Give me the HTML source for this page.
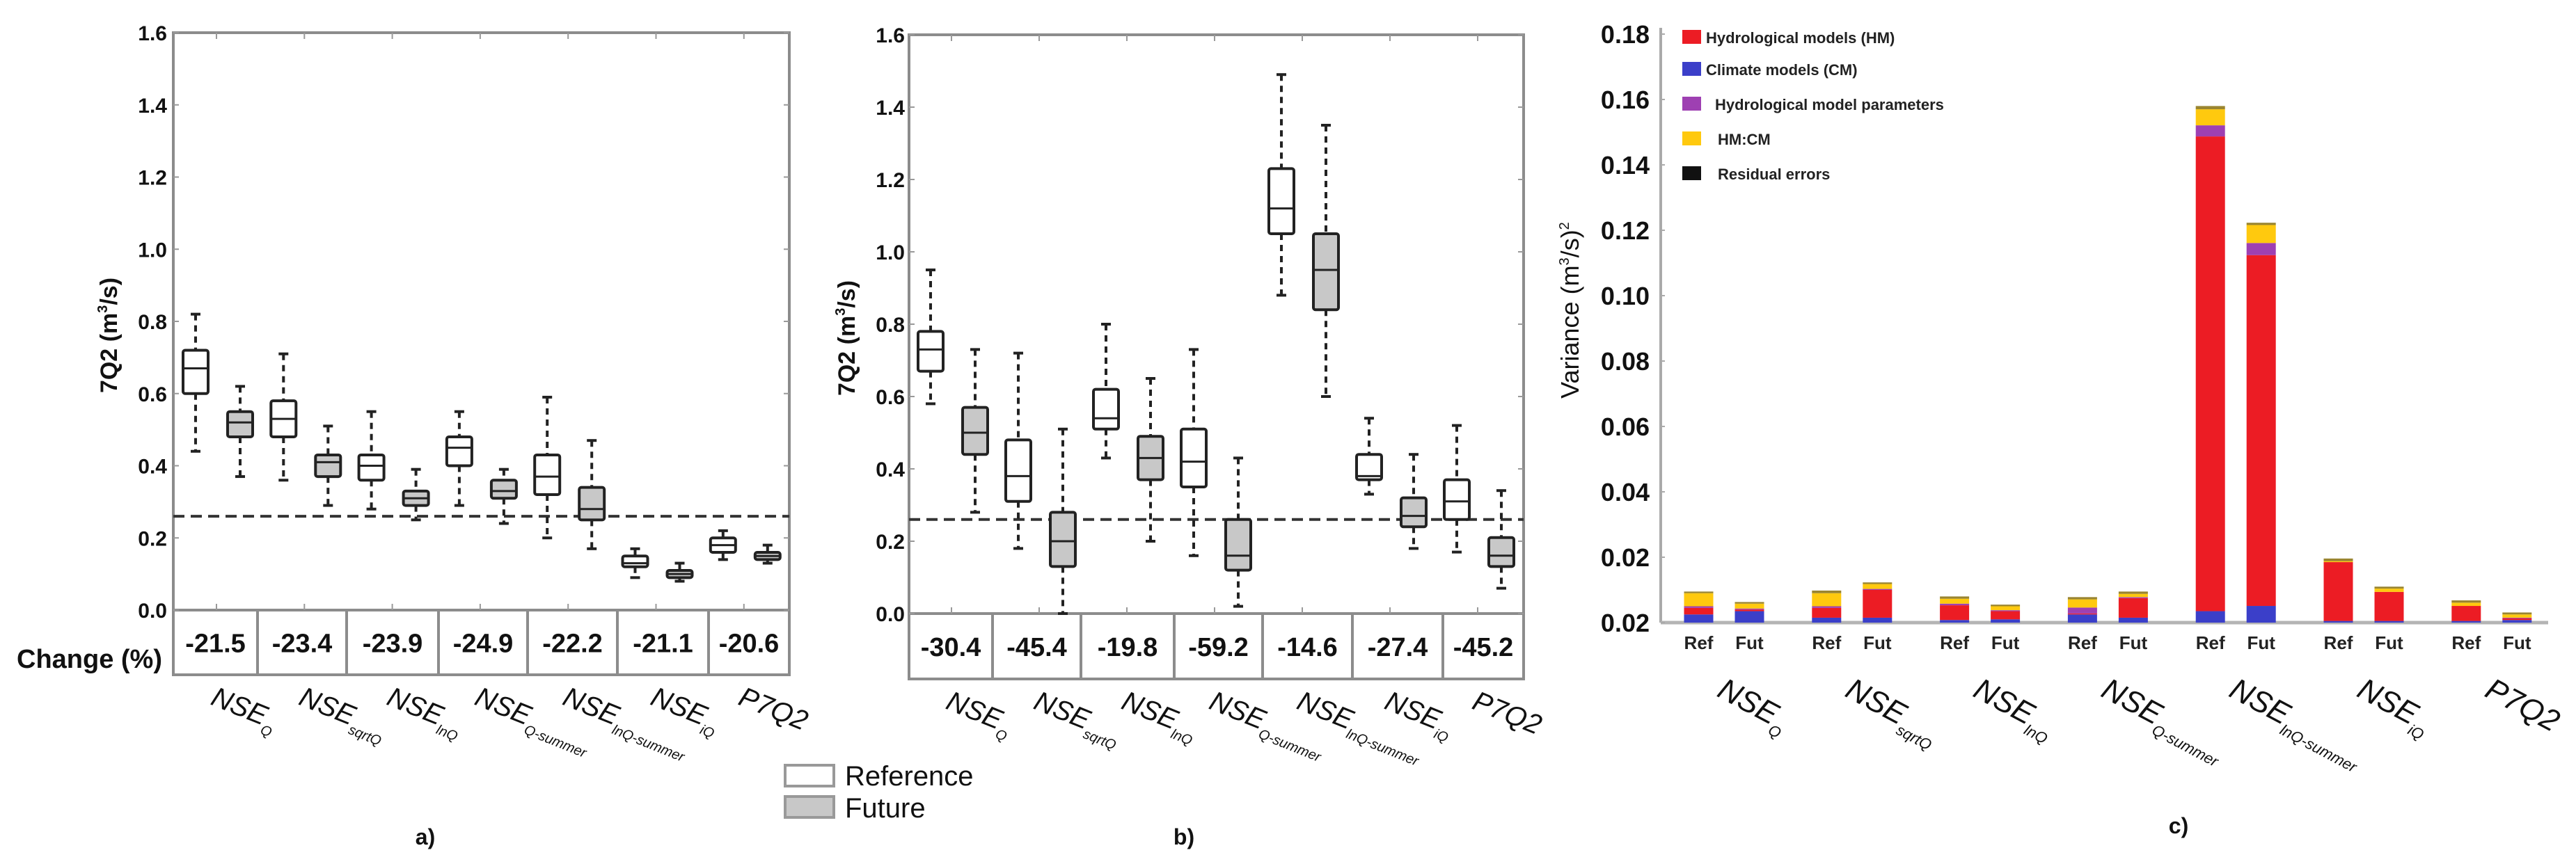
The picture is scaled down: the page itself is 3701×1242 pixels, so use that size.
<!DOCTYPE html>
<html><head><meta charset="utf-8">
<style>
html,body{margin:0;padding:0;background:#fff;}
svg{display:block;font-family:"Liberation Sans",Arial,sans-serif;}
</style></head>
<body>
<svg id="fig" width="3701" height="1242" viewBox="0 0 3701 1242" xmlns="http://www.w3.org/2000/svg"></svg>
<script>
// ---------- DATA ----------
const categories = ["NSE|Q","NSE|sqrtQ","NSE|lnQ","NSE|Q-summer","NSE|lnQ-summer","NSE|iQ","P7Q2|"];
const yTicksAB = [0.0,0.2,0.4,0.6,0.8,1.0,1.2,1.4,1.6];
const threshold = 0.26;
// panel a: [whiskerLow, q1, median, q3, whiskerHigh]
const aRefLo=[0.44,0.36,0.28,0.29,0.20,0.09,0.14];
const aRefQ1=[0.60,0.48,0.36,0.40,0.32,0.12,0.16];
const aRefMed=[0.67,0.53,0.40,0.45,0.37,0.13,0.18];
const aRefQ3=[0.72,0.58,0.43,0.48,0.43,0.15,0.20];
const aRefHi=[0.82,0.71,0.55,0.55,0.59,0.17,0.22];
const aFutLo=[0.37,0.29,0.25,0.24,0.17,0.08,0.13];
const aFutQ1=[0.48,0.37,0.29,0.31,0.25,0.09,0.14];
const aFutMed=[0.52,0.41,0.31,0.33,0.28,0.10,0.15];
const aFutQ3=[0.55,0.43,0.33,0.36,0.34,0.11,0.16];
const aFutHi=[0.62,0.51,0.39,0.39,0.47,0.13,0.18];
const aChange=["-21.5","-23.4","-23.9","-24.9","-22.2","-21.1","-20.6"];
// panel b
const bRefLo=[0.58,0.18,0.43,0.16,0.88,0.33,0.17];
const bRefQ1=[0.67,0.31,0.51,0.35,1.05,0.37,0.26];
const bRefMed=[0.73,0.38,0.54,0.42,1.12,0.38,0.31];
const bRefQ3=[0.78,0.48,0.62,0.51,1.23,0.44,0.37];
const bRefHi=[0.95,0.72,0.80,0.73,1.49,0.54,0.52];
const bFutLo=[0.28,0.00,0.20,0.02,0.60,0.18,0.07];
const bFutQ1=[0.44,0.13,0.37,0.12,0.84,0.24,0.13];
const bFutMed=[0.50,0.20,0.43,0.16,0.95,0.27,0.16];
const bFutQ3=[0.57,0.28,0.49,0.26,1.05,0.32,0.21];
const bFutHi=[0.73,0.51,0.65,0.43,1.35,0.44,0.34];
const bChange=["-30.4","-45.4","-19.8","-59.2","-14.6","-27.4","-45.2"];
// panel c: variance components, bars ordered Ref,Fut per category
const cTickVals=[0,0.02,0.04,0.06,0.08,0.10,0.12,0.14,0.16,0.18];
const cTickLabels=["0.02","0.02","0.04","0.06","0.08","0.10","0.12","0.14","0.16","0.18"];
const cBarLabels=["Ref","Fut"];
const cCM   =[0.0025,0.0035,0.0015,0.0015,0.0008,0.0010,0.0025,0.0015,0.0035,0.0051,0.0005,0.0005,0.0005,0.0008];
const cHM   =[0.0020,0.0005,0.0030,0.0085,0.0045,0.0025,0.0003,0.0060,0.1452,0.1073,0.0180,0.0089,0.0046,0.0005];
const cParam=[0.0005,0.0003,0.0005,0.0003,0.0005,0.0003,0.0018,0.0003,0.0034,0.0037,0.0000,0.0000,0.0000,0.0002];
const cHMCM =[0.0040,0.0015,0.0040,0.0015,0.0015,0.0012,0.0025,0.0010,0.0049,0.0055,0.0003,0.0010,0.0010,0.0010];
const cResid=[0.0005,0.0005,0.0008,0.0005,0.0007,0.0005,0.0007,0.0007,0.0010,0.0007,0.0008,0.0006,0.0007,0.0006];
const cLegend=["Hydrological models (HM)","Climate models (CM)","Hydrological model parameters","HM:CM","Residual errors"];

// ---------- HELPERS ----------
const NS="http://www.w3.org/2000/svg";
const svg=document.getElementById('fig');
function mk(tag,attrs,parent){const e=document.createElementNS(NS,tag);for(const k in attrs)e.setAttribute(k,attrs[k]);(parent||svg).appendChild(e);return e;}
function txt(str,attrs,parent){const e=mk('text',attrs,parent);e.textContent=str;return e;}

function catLabel(parent,x,y,cat,size,rot,name){
  const [main,sub]=cat.split('|');
  const t=mk('text',{x:x,y:y,'font-size':size,'font-style':'italic',fill:'#111',transform:`rotate(${rot} ${x} ${y})`},parent);
  
  
  const s1=mk('tspan',{},t);s1.textContent=main;
  if(sub){const s2=mk('tspan',{'font-size':Math.round(size*0.5),dy:Math.round(size*0.3)},t);s2.textContent=sub;}
}

function boxPanel(id,cfg){
  const g=mk('g',{});
  
  
  const {L,R,T,Z,B}=cfg;
  const ys=v=>Z-(v/1.6)*(Z-T);
  const tick=i=>cfg.t0+cfg.step*i;
  // frame
  const fr=mk('rect',{x:L,y:T,width:R-L,height:B-T,fill:'none',stroke:'#8c8c8c','stroke-width':4},g);
  
  mk('line',{x1:L,x2:R,y1:Z,y2:Z,stroke:'#8c8c8c','stroke-width':4},g);
  // y ticks
  yTicksAB.forEach(v=>{
    const y=ys(v);
    mk('line',{x1:L,x2:L+8,y1:y,y2:y,stroke:'#999','stroke-width':2},g);
    mk('line',{x1:R-8,x2:R,y1:y,y2:y,stroke:'#999','stroke-width':2},g);
    const t=txt(v.toFixed(1),{x:cfg.labX,y:y+11,'text-anchor':'end','font-size':30,'font-weight':'bold',fill:'#111'},g);
    
  });
  // x ticks
  categories.forEach((c,i)=>{
    mk('line',{x1:tick(i),x2:tick(i),y1:Z-9,y2:Z,stroke:'#999','stroke-width':2},g);
    mk('line',{x1:tick(i),x2:tick(i),y1:T,y2:T+9,stroke:'#999','stroke-width':2},g);
  });
  // table dividers & change values
  const divs=[L].concat(cfg.divs).concat([R]);
  cfg.divs.forEach(d=>mk('line',{x1:d,x2:d,y1:Z,y2:B,stroke:'#8c8c8c','stroke-width':4},g));
  cfg.change.forEach((v,i)=>{
    const t=txt(v,{x:(divs[i]+divs[i+1])/2,y:(Z+B)/2+14,'text-anchor':'middle','font-size':38,'font-weight':'bold',fill:'#111'},g);
    
  });
  // threshold
  const th=mk('line',{x1:L,x2:R,y1:ys(threshold),y2:ys(threshold),stroke:'#333','stroke-width':4,'stroke-dasharray':'16 9'},g);
  
  // boxes
  const drawBox=(x,lo,q1,md,q3,hi,fill,name)=>{
    const bg=mk('g',{},g);
    
    
    const w=36;
    mk('line',{x1:x,x2:x,y1:ys(hi),y2:ys(q3),stroke:'#222','stroke-width':4,'stroke-dasharray':'9 7'},bg);
    mk('line',{x1:x,x2:x,y1:ys(q1),y2:ys(lo),stroke:'#222','stroke-width':4,'stroke-dasharray':'9 7'},bg);
    mk('line',{x1:x-7,x2:x+7,y1:ys(hi),y2:ys(hi),stroke:'#222','stroke-width':4},bg);
    mk('line',{x1:x-7,x2:x+7,y1:ys(lo),y2:ys(lo),stroke:'#222','stroke-width':4},bg);
    mk('rect',{x:x-w/2,y:ys(q3),width:w,height:ys(q1)-ys(q3),fill:fill,stroke:'#222','stroke-width':4,rx:3},bg);
    mk('line',{x1:x-w/2,x2:x+w/2,y1:ys(md),y2:ys(md),stroke:'#222','stroke-width':3},bg);
  };
  categories.forEach((c,i)=>{
    drawBox(tick(i)-30,cfg.rLo[i],cfg.rQ1[i],cfg.rMed[i],cfg.rQ3[i],cfg.rHi[i],'#fff','reference-box');
    drawBox(tick(i)+34,cfg.fLo[i],cfg.fQ1[i],cfg.fMed[i],cfg.fQ3[i],cfg.fHi[i],'#c8c8c8','future-box');
    catLabel(g,tick(i)-10,B+42,c,40,22,'category-label');
  });
  // y label
  const yl=mk('text',{x:cfg.ylX,y:(T+Z)/2+20,'text-anchor':'middle','font-size':34,'font-weight':'bold',fill:'#111',transform:`rotate(-90 ${cfg.ylX} ${(T+Z)/2+20})`},g);
  
  const a1=mk('tspan',{},yl);a1.textContent='7Q2 (m';
  const a2=mk('tspan',{'font-size':20,dy:-14},yl);a2.textContent='3';
  const a3=mk('tspan',{dy:14},yl);a3.textContent='/s)';
  const pl=txt(cfg.tag,{x:cfg.tagX,y:1214,'text-anchor':'middle','font-size':32,'font-weight':'bold',fill:'#111'},g);
  
}

boxPanel('panel-a',{L:249,R:1134,T:47,Z:877,B:970,labX:240,t0:311,step:126.3,divs:[370,498,630,758,887,1018],
  change:aChange,rLo:aRefLo,rQ1:aRefQ1,rMed:aRefMed,rQ3:aRefQ3,rHi:aRefHi,fLo:aFutLo,fQ1:aFutQ1,fMed:aFutMed,fQ3:aFutQ3,fHi:aFutHi,ylX:168,tag:'a)',tagX:611});
boxPanel('panel-b',{L:1306,R:2189,T:50,Z:882,B:976,labX:1300,t0:1367,step:126,divs:[1426,1553,1687,1814,1943,2073],
  change:bChange,rLo:bRefLo,rQ1:bRefQ1,rMed:bRefMed,rQ3:bRefQ3,rHi:bRefHi,fLo:bFutLo,fQ1:bFutQ1,fMed:bFutMed,fQ3:bFutQ3,fHi:bFutHi,ylX:1228,tag:'b)',tagX:1701});

// "Change (%)" label
const ch=txt('Change (%)',{x:24,y:960,'font-size':38,'font-weight':'bold',fill:'#111'});


// legend a/b
const lg=mk('g',{});

mk('rect',{x:1128,y:1100,width:70,height:30,fill:'#fff',stroke:'#999','stroke-width':4},lg);
mk('rect',{x:1128,y:1145,width:70,height:30,fill:'#c8c8c8',stroke:'#999','stroke-width':4},lg);
const lr=txt('Reference',{x:1214,y:1129,'font-size':40,fill:'#111'},lg);

const lf=txt('Future',{x:1214,y:1175,'font-size':40,fill:'#111'},lg);


// ---------- PANEL C ----------
(function(){
  const g=mk('g',{});
  
  const AX=2386,BASE=895,RIGHT=3661,per=94/0.02;
  const yv=v=>BASE-v*per;
  const gc=i=>2477+183.8*i;
  mk('line',{x1:AX,x2:AX,y1:40,y2:BASE,stroke:'#aaa','stroke-width':4},g);
  mk('line',{x1:AX,x2:RIGHT,y1:BASE,y2:BASE,stroke:'#b4b4b4','stroke-width':5},g);
  cTickVals.forEach((v,i)=>{
    mk('line',{x1:AX,x2:AX+6,y1:yv(v),y2:yv(v),stroke:'#aaa','stroke-width':2},g);
    const t=txt(cTickLabels[i],{x:2370,y:yv(v)+13,'text-anchor':'end','font-size':36,'font-weight':'bold',fill:'#111'},g);
    
  });
  const colors=['#3b3fc9','#ec1c24','#9e40b2','#ffc90e','#9a8530'];
  const series=[cCM,cHM,cParam,cHMCM,cResid];
  const names=['bar-climate-models','bar-hydrological-models','bar-model-parameters','bar-hm-cm','bar-residual'];
  for(let k=0;k<cCM.length;k++){
    const ci=Math.floor(k/2), side=k%2;
    const x=gc(ci)+(side?36.5:-36.5);
    let acc=0;
    series.forEach((s,j)=>{
      const v=s[k]; if(v<=0) return;
      const r=mk('rect',{x:x-21,y:yv(acc+v),width:42,height:v*per,fill:colors[j]},g);
      
      
      acc+=v;
    });
    const t=txt(cBarLabels[side],{x:x,y:933,'text-anchor':'middle','font-size':26,'font-weight':'bold',fill:'#222'},g);
    
  }
  categories.forEach((c,i)=>catLabel(g,gc(i)-12,1000,c,44,28,'category-label'));
  // legend
  const lcol=['#ec1c24','#3b3fc9','#9e40b2','#ffc90e','#111'];
  const ly=[54,100,150,200,250];
  const lx=[2451,2451,2464,2468,2468];
  cLegend.forEach((s,i)=>{
    const sw=mk('rect',{x:2417,y:ly[i]-11,width:27,height:20,fill:lcol[i]},g);
    
    const t=txt(s,{x:lx[i],y:ly[i]+8,'font-size':22,'font-weight':'bold',fill:'#222'},g);
    
  });
  // y title
  const cx=2268,cy=446;
  const yl=mk('text',{x:cx,y:cy,'text-anchor':'middle','font-size':36,fill:'#111',transform:`rotate(-90 ${cx} ${cy})`},g);
  
  const p1=mk('tspan',{},yl);p1.textContent='Variance (m';
  const p2=mk('tspan',{'font-size':20,dy:-14},yl);p2.textContent='3';
  const p3=mk('tspan',{dy:14},yl);p3.textContent='/s)';
  const p4=mk('tspan',{'font-size':20,dy:-14},yl);p4.textContent='2';
  const pl=txt('c)',{x:3130,y:1198,'text-anchor':'middle','font-size':32,'font-weight':'bold',fill:'#111'},g);
  
})();
</script>
</body></html>
